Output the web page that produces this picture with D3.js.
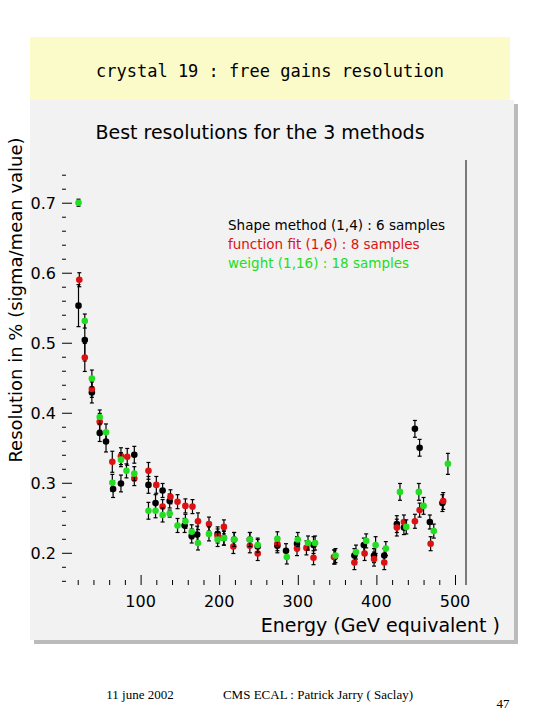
<!DOCTYPE html>
<html><head><meta charset="utf-8">
<script src="https://cdn.jsdelivr.net/npm/d3@7"></script>
<style>body{margin:0;background:#fff}</style>
</head><body>
<script>
// [energy, value, error]
const shapeData = [[21,.553,.03],[29,.504,.03],[38,.429,.015],[48,.371,.012],[56,.359,.015],[65,.291,.012],[75,.299,.012],[92,.340,.012],[110,.297,.012],[119,.271,.012],[128,.289,.01],[137,.274,.01],[156,.239,.01],[165,.224,.01],[172,.226,.012],[198,.227,.01],[206,.221,.01],[219,.219,.01],[239,.219,.01],[249,.209,.01],[274,.210,.01],[285,.203,.01],[299,.213,.01],[320,.211,.012],[347,.194,.01],[372,.196,.01],[384,.211,.01],[397,.196,.01],[410,.196,.01],[426,.241,.012],[435,.236,.01],[449,.377,.012],[455,.350,.012],[468,.244,.01],[484,.271,.012]];
const fitData = [[22,.590,.01],[29,.479,.02],[38,.434,.012],[48,.387,.012],[64,.330,.015],[75,.338,.012],[83,.337,.012],[92,.306,.01],[110,.317,.012],[120,.297,.012],[128,.266,.01],[138,.280,.01],[147,.273,.01],[157,.267,.01],[166,.266,.01],[173,.245,.012],[187,.241,.01],[198,.224,.01],[206,.237,.01],[218,.209,.01],[239,.210,.01],[249,.199,.01],[274,.213,.01],[299,.206,.01],[311,.207,.01],[320,.193,.01],[346,.194,.01],[372,.186,.01],[385,.199,.01],[397,.191,.01],[410,.186,.01],[426,.236,.012],[435,.244,.01],[449,.245,.01],[455,.261,.01],[469,.213,.01],[485,.274,.012]];
const weightData = [[21,.700,.005],[29,.531,.01],[38,.449,.012],[48,.394,.01],[56,.372,.012],[64,.300,.012],[75,.333,.01],[82,.317,.01],[92,.313,.01],[110,.260,.012],[119,.260,.01],[128,.254,.01],[137,.256,.005],[147,.239,.01],[157,.245,.01],[165,.230,.01],[173,.214,.01],[187,.227,.01],[198,.219,.01],[206,.221,.01],[219,.219,.01],[239,.219,.01],[249,.211,.01],[274,.220,.01],[286,.194,.01],[300,.219,.01],[313,.214,.01],[322,.214,.01],[348,.196,.01],[374,.201,.01],[387,.217,.01],[399,.211,.012],[412,.206,.01],[430,.287,.012],[438,.237,.01],[454,.287,.012],[460,.267,.012],[473,.231,.01],[491,.327,.015]];
const xTicks = [100,200,300,400,500];
const yTicks = [0.2,0.3,0.4,0.5,0.6,0.7];
const series = [
  {name:"Shape method (1,4) : 6 samples", color:"#000", data:shapeData},
  {name:"function fit (1,6) : 8 samples", color:"#dd1111", data:fitData},
  {name:"weight (1,16) : 18 samples", color:"#22dd22", data:weightData}
];
const comic = "'DejaVu Sans', sans-serif";

const svg = d3.select("body").append("svg").attr("width",540).attr("height",720);

// title banner
svg.append("rect").attr("x",30).attr("y",37).attr("width",480).attr("height",66).attr("fill","#fbfbc9");
svg.append("text").attr("x",270).attr("y",77).attr("text-anchor","middle")
  .attr("font-family","'DejaVu Sans Mono', monospace").attr("font-size",17)
  .text("crystal 19 : free gains resolution");

// canvas panel
svg.append("rect").attr("x",34).attr("y",104).attr("width",484).attr("height",540).attr("fill","#bbb");
svg.append("rect").attr("x",30).attr("y",100).attr("width",484).attr("height",540).attr("fill","#f2f2f2");

const x = d3.scaleLinear().domain([0,514]).range([62,466]);
const y = d3.scaleLinear().domain([0.154,0.761]).range([585,160]);

const g = svg.append("g");
g.append("line").attr("x1",466).attr("x2",466).attr("y1",160).attr("y2",585).attr("stroke","#000");

const yAx = g.append("g").attr("transform","translate(62,0)")
  .call(d3.axisRight(y).tickValues(d3.range(0.16,0.76,0.02)).tickSize(4).tickFormat(""));
yAx.selectAll(".tick line").filter(d=>yTicks.some(t=>Math.abs(t-d)<1e-6)).attr("x2",10);
yAx.select(".domain").remove();
g.selectAll(".ylab").data(yTicks).join("text").attr("x",56).attr("y",d=>y(d)+6)
  .attr("text-anchor","end").attr("font-family",comic).attr("font-size",16).text(d=>d.toFixed(1));

const xAx = g.append("g").attr("transform","translate(0,585)")
  .call(d3.axisTop(x).tickValues(d3.range(20,514,20)).tickSize(5).tickFormat(""));
xAx.selectAll(".tick line").filter(d=>d%100===0).attr("y2",-10);
xAx.select(".domain").remove();
g.selectAll(".xlab").data(xTicks).join("text").attr("x",d=>x(d)).attr("y",607)
  .attr("text-anchor","middle").attr("font-family",comic).attr("font-size",16).text(d=>d);

svg.append("text").attr("x",500).attr("y",632).attr("text-anchor","end")
  .attr("font-family",comic).attr("font-size",19).text("Energy (GeV equivalent )");
svg.append("text").attr("transform","translate(22,300) rotate(-90)").attr("text-anchor","middle")
  .attr("font-family",comic).attr("font-size",18).text("Resolution in % (sigma/mean value)");
svg.append("text").attr("x",260).attr("y",139).attr("text-anchor","middle")
  .attr("font-family",comic).attr("font-size",19).text("Best resolutions for the 3 methods");

series.forEach(s=>{
  const sg = svg.append("g");
  sg.selectAll("line.e").data(s.data).join("line").attr("class","e")
    .attr("x1",d=>x(d[0])).attr("x2",d=>x(d[0])).attr("y1",d=>y(d[1]-d[2])).attr("y2",d=>y(d[1]+d[2]))
    .attr("stroke","#000").attr("stroke-width",1.2);
  [["lo",-1],["hi",1]].forEach(([cls,sgn])=>{
    sg.selectAll("line."+cls).data(s.data).join("line").attr("class",cls)
      .attr("x1",d=>x(d[0])-2).attr("x2",d=>x(d[0])+2)
      .attr("y1",d=>y(d[1]+sgn*d[2])).attr("y2",d=>y(d[1]+sgn*d[2]))
      .attr("stroke","#000").attr("stroke-width",1.2);
  });
  sg.selectAll("circle").data(s.data).join("circle")
    .attr("cx",d=>x(d[0])).attr("cy",d=>y(d[1])).attr("r",3.3).attr("fill",s.color);
});

svg.selectAll(".leg").data(series).join("text").attr("x",228).attr("y",(d,i)=>230+i*19)
  .attr("font-family",comic).attr("font-size",13.5).attr("fill",d=>d.color).text(d=>d.name);

// footer
const serif = "'Liberation Serif', serif";
svg.append("text").attr("x",140).attr("y",699).attr("text-anchor","middle").attr("font-family",serif).attr("font-size",13).text("11 june 2002");
svg.append("text").attr("x",318).attr("y",699).attr("text-anchor","middle").attr("font-family",serif).attr("font-size",13).text("CMS ECAL : Patrick Jarry ( Saclay)");
svg.append("text").attr("x",503).attr("y",708).attr("text-anchor","middle").attr("font-family",serif).attr("font-size",13).text("47");
</script>
</body></html>
